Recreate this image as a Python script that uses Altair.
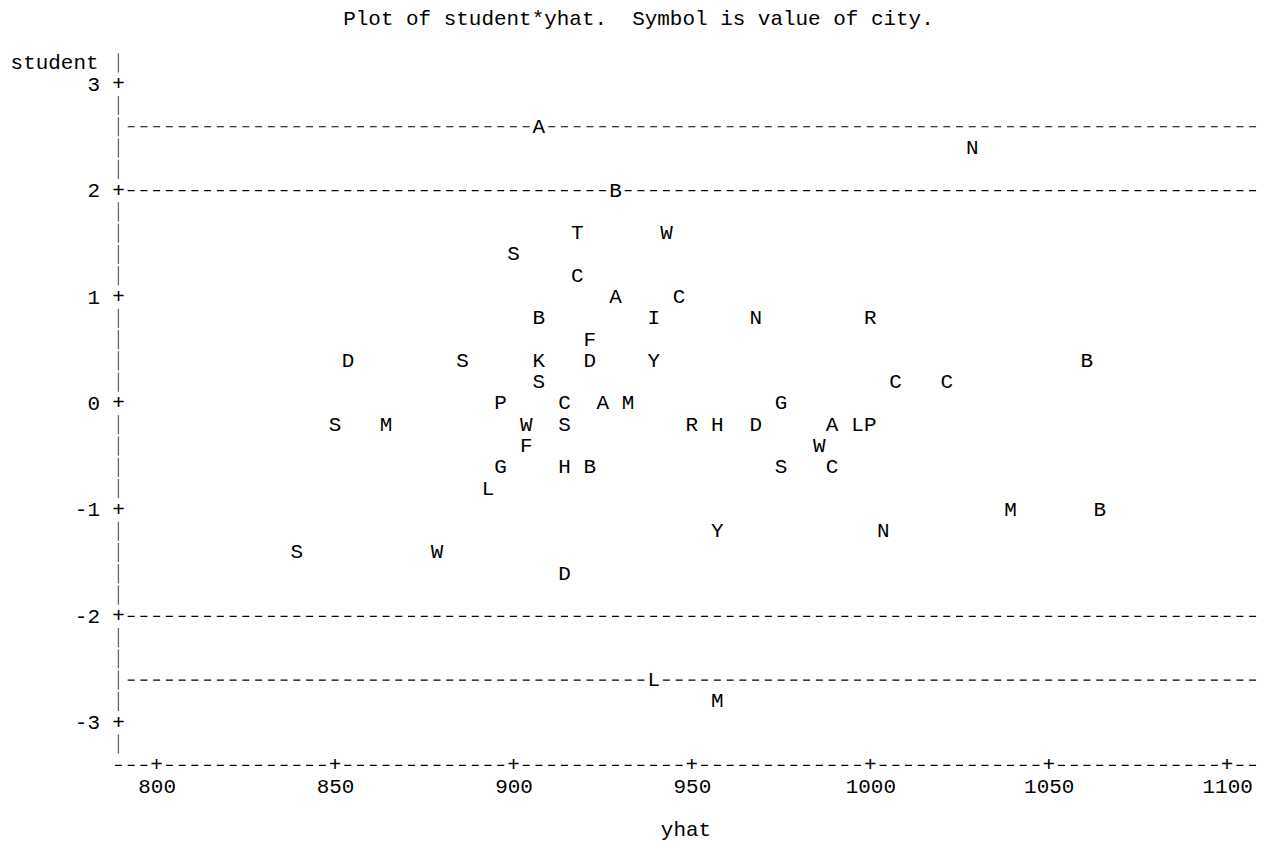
import altair as alt
import pandas as pd

# ---- data (symbol = first letter of city) ----
city = ["A", "N", "B", "T", "W", "S", "C", "A", "C",
        "B", "I", "N", "R", "F",
        "D", "S", "K", "D", "Y", "B",
        "S", "C", "C",
        "P", "C", "A", "M", "G",
        "S", "M", "W", "S", "R", "H", "D", "A", "L", "P",
        "F", "W",
        "G", "H", "B", "S", "C",
        "L", "M", "B", "Y", "N", "S", "W", "D", "L", "M"]
yhat = [907.1, 1028.6, 928.6, 917.9, 942.9, 900.0, 917.9, 928.6, 946.4,
        907.1, 939.3, 967.9, 1000.0, 921.4,
        853.6, 885.7, 907.1, 921.4, 939.3, 1060.7,
        907.1, 1007.1, 1021.4,
        896.4, 914.3, 925.0, 932.1, 975.0,
        850.0, 864.3, 903.6, 914.3, 950.0, 957.1, 967.9, 989.3, 996.4, 1000.0,
        903.6, 985.7,
        896.4, 914.3, 921.4, 975.0, 989.3,
        892.9, 1039.3, 1064.3, 957.1, 1003.6, 839.3, 878.6, 914.3, 939.3, 957.1]
student = [2.6, 2.4, 2.0, 1.6, 1.6, 1.4, 1.2, 1.0, 1.0,
           0.8, 0.8, 0.8, 0.8, 0.6,
           0.4, 0.4, 0.4, 0.4, 0.4, 0.4,
           0.2, 0.2, 0.2,
           0.0, 0.0, 0.0, 0.0, 0.0,
           -0.2, -0.2, -0.2, -0.2, -0.2, -0.2, -0.2, -0.2, -0.2, -0.2,
           -0.4, -0.4,
           -0.6, -0.6, -0.6, -0.6, -0.6,
           -0.8, -1.0, -1.0, -1.2, -1.2, -1.4, -1.4, -1.6, -2.6, -2.8]

ref_lines = [2.6, 2.0, -2.0, -2.6]
y_ticks = [-3, -2, -1, 0, 1, 2, 3]
x_ticks = [800, 850, 900, 950, 1000, 1050, 1100]

# ---- line-printer grid (layout) ----
COL = 50 / 14          # yhat units per character column
X_AXIS = 800 - 3 * COL  # column of the vertical axis
X_END = 800 + 86.5 * COL
Y_TOP, Y_BOT = 3.3, -3.5
Y_XAXIS = -3.4
PX_COL = 12.774

FONT = "Liberation Mono"
FS = 21
W = (X_END - X_AXIS) / COL * PX_COL
H = (Y_TOP - Y_BOT) * 106.67

xs = alt.Scale(domain=[X_AXIS, X_END], nice=False, zero=False)
ys = alt.Scale(domain=[Y_BOT, Y_TOP], nice=False, zero=False)

x_axis = alt.Axis(values=x_ticks, format="d", labelFont=FONT, labelFontSize=FS,
                  labelColor="black", labelPadding=10.7, labelBaseline="middle",
                  labelFlush=False, labelOverlap=False,
                  ticks=False, tickSize=0, domain=False, grid=False,
                  title="yhat", titleFont=FONT, titleFontSize=FS, titleFontWeight="normal",
                  titleColor="black", titleX=568.4, titleY=53.4, titleAlign="center",
                  titleBaseline="middle")
y_axis = alt.Axis(values=y_ticks,
                  labelExpr="datum.value < 0 ? '-' + format(-datum.value, 'd') : format(datum.value, 'd')",
                  labelFont=FONT, labelFontSize=FS, labelColor="black", labelPadding=19,
                  labelBaseline="middle", labelFlush=False, labelOverlap=False,
                  ticks=False, tickSize=0, domain=False, grid=False,
                  title="student", titleAngle=0, titleAlign="left", titleBaseline="middle",
                  titleX=-108.6, titleY=10.3, titleFont=FONT, titleFontSize=FS,
                  titleFontWeight="normal", titleColor="black")


def X(f="yhat"):
    return alt.X(f, type="quantitative", scale=xs, axis=x_axis)


def Y(f="student"):
    return alt.Y(f, type="quantitative", scale=ys, axis=y_axis)


pts = pd.DataFrame({"city": city, "yhat": yhat, "student": student})

# vertical axis "|" pieces, one per printer row that carries no tick
rows = [r / 5 for r in range(16, -17, -1) if r % 5 != 0]
vbar = pd.DataFrame({"yhat": [X_AXIS] * len(rows),
                     "student": [r + 0.09 for r in rows],
                     "student2": [r - 0.09 for r in rows]})

# dashed rows: reference lines and the horizontal axis row
hl = pd.DataFrame({"student": ref_lines + [Y_XAXIS],
                   "yhat": [X_AXIS + COL / 2] * len(ref_lines) + [X_AXIS - COL / 2],
                   "yhat2": [X_END] * (len(ref_lines) + 1)})

plus = pd.DataFrame({"yhat": [X_AXIS] * len(y_ticks) + x_ticks,
                     "student": y_ticks + [Y_XAXIS] * len(x_ticks)})

mask = pd.concat([pts[["yhat", "student"]], plus.iloc[len(y_ticks):]], ignore_index=True)

l_vbar = alt.Chart(vbar).mark_rule(color="#666666", strokeWidth=1.3).encode(
    x=X(), y=Y(), y2=alt.Y2("student2"))
l_hl = alt.Chart(hl).mark_rule(color="black", strokeWidth=1.2,
                               strokeDash=[7, 5.774], strokeDashOffset=9.887).encode(
    x=X(), x2=alt.X2("yhat2"), y=Y())
l_mask = alt.Chart(mask).mark_square(color="white", size=150, opacity=1).encode(x=X(), y=Y())
l_plus = alt.Chart(plus).mark_text(text="+", font=FONT, fontSize=FS, color="black",
                                   baseline="middle", align="center").encode(x=X(), y=Y())
l_pts = alt.Chart(pts).mark_text(font=FONT, fontSize=FS, color="black",
                                 baseline="middle", align="center").encode(
    x=X(), y=Y(), text="city:N")

chart = alt.layer(l_vbar, l_hl, l_mask, l_plus, l_pts).properties(
    width=W, height=H,
    padding={"left": 110.68, "top": 43.4, "right": 0, "bottom": 65.3},
    autosize=alt.AutoSizeParams(type="none"),
    title=alt.TitleParams("Plot of student*yhat.\u00a0 Symbol is value of city.",
                          anchor="start", frame="group", dx=225.3, offset=12,
                          font=FONT, fontSize=FS, fontWeight="normal", color="black",
                          baseline="middle"),
).configure_view(strokeWidth=0)

chart.save("out.html", embed_options={"renderer": "svg", "actions": False})
